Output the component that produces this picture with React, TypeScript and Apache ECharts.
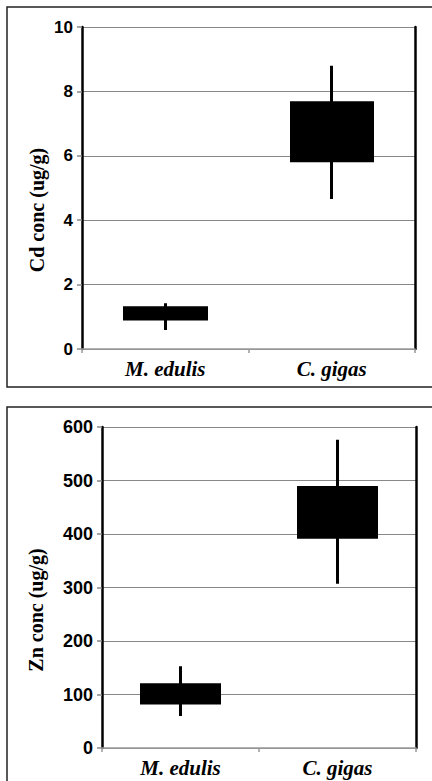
import React, { useEffect, useRef } from "react";
import * as echarts from "echarts";

const categories = ["M. edulis", "C. gigas"];
// [boxLow, boxHigh, whiskerLow, whiskerHigh]
const cdValues = [
  [0.93, 1.28, 0.59, 1.42],
  [5.85, 7.65, 4.66, 8.8],
];
const znValues = [
  [84, 118, 60, 153],
  [394, 487, 307, 576],
];
const cdTicks = { min: 0, max: 10, interval: 2 };
const znTicks = { min: 0, max: 600, interval: 100 };
const cdName = "Cd conc (ug/g)";
const znName = "Zn conc (ug/g)";

export default function App() {
  const ref = useRef<HTMLDivElement>(null);
  useEffect(() => {
    if (!ref.current) return;
    const chart = echarts.init(ref.current, undefined, { renderer: "svg" });
    const sans = "'Liberation Sans', Arial, sans-serif";
    const serif = "'Liberation Serif', 'Times New Roman', serif";
    const mkX = (gi: number) => ({
      type: "category",
      gridIndex: gi,
      data: categories,
      axisLine: { lineStyle: { color: "#999", width: 1.5 } },
      axisTick: { show: true, length: 4, lineStyle: { color: "#999", width: 1.5 } },
      axisLabel: {
        color: "#000",
        fontFamily: serif,
        fontStyle: "italic",
        fontWeight: "bold",
        fontSize: 21,
        margin: 9,
      },
      splitLine: { show: false },
    });
    const mkY = (gi: number, t: any, fs: number) => ({
      type: "value",
      gridIndex: gi,
      min: t.min,
      max: t.max,
      interval: t.interval,
      axisLine: { show: true, lineStyle: { color: "#000", width: 2.5 } },
      axisTick: { show: true, length: 5, lineStyle: { color: "#888", width: 1.5 } },
      axisLabel: {
        color: "#000",
        fontFamily: sans,
        fontWeight: "bold",
        fontSize: fs,
        margin: 9,
      },
      splitLine: { show: true, lineStyle: { color: "#888", width: 1.2 } },
    });
    const mkYR = (gi: number, t: any) => ({
      type: "value",
      gridIndex: gi,
      position: "right",
      min: t.min,
      max: t.max,
      interval: t.interval,
      axisLine: { show: true, lineStyle: { color: "#000", width: 2.5 } },
      axisTick: { show: false },
      axisLabel: { show: false },
      splitLine: { show: false },
    });
    const candle = (xi: number, yi: number, data: number[][], w: number) => ({
      type: "candlestick",
      xAxisIndex: xi,
      yAxisIndex: yi,
      data,
      barWidth: w,
      itemStyle: {
        color: "#000",
        color0: "#000",
        borderColor: "#000",
        borderColor0: "#000",
        borderWidth: 3,
      },
    });
    chart.setOption({
      animation: false,
      backgroundColor: "#fff",
      grid: [
        { left: 82, top: 27, right: 17, bottom: 432 },
        { left: 102, top: 427, right: 16, bottom: 33 },
      ],
      xAxis: [mkX(0), mkX(1)],
      yAxis: [mkY(0, cdTicks, 17), mkYR(0, cdTicks), mkY(1, znTicks, 18), mkYR(1, znTicks)],
      series: [candle(0, 0, cdValues, 82), candle(1, 2, znValues, 78)],
      graphic: [
        {
          type: "rect",
          shape: { x: 7, y: 7, width: 440, height: 380 },
          style: { fill: "none", stroke: "#222", lineWidth: 1.5 },
          z: 100,
        },
        {
          type: "rect",
          shape: { x: 7, y: 407, width: 440, height: 400 },
          style: { fill: "none", stroke: "#222", lineWidth: 1.5 },
          z: 100,
        },
        {
          type: "text",
          x: 37,
          y: 210,
          rotation: Math.PI / 2,
          style: {
            text: cdName,
            fontFamily: serif,
            fontWeight: "bold",
            fontSize: 20,
            fill: "#000",
            align: "center",
            verticalAlign: "middle",
          },
        },
        {
          type: "text",
          x: 36,
          y: 610,
          rotation: Math.PI / 2,
          style: {
            text: znName,
            fontFamily: serif,
            fontWeight: "bold",
            fontSize: 20,
            fill: "#000",
            align: "center",
            verticalAlign: "middle",
          },
        },
      ],
    });
    return () => chart.dispose();
  }, []);
  return (
    <div
      ref={ref}
      style={{ position: "fixed", left: 0, top: 0, width: 432, height: 781 }}
    />
  );
}
